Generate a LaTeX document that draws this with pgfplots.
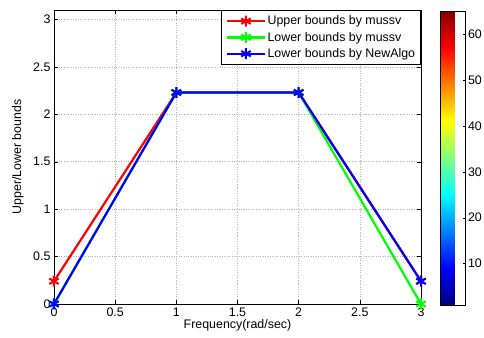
\documentclass[border=0pt]{standalone}
\usepackage{fontspec}
\setmainfont{Liberation Sans}
\usepackage{pgfplots}
\pgfplotsset{compat=1.18}
\begin{document}
\begin{tikzpicture}[font=\fontsize{12.4}{14.5}\selectfont]
\begin{axis}[
  name=main,
  scale only axis,
  width=367pt, height=294pt,
  xmin=0, xmax=3, ymin=0, ymax=3.1,
  xtick={0,0.5,1,1.5,2,2.5,3},
  ytick={0,0.5,1,1.5,2,2.5,3},
  xticklabels={0,0.5,1,1.5,2,2.5,3},
  yticklabels={0,0.5,1,1.5,2,2.5,3},
  /pgf/number format/assume math mode=true,
  tick label style={font=\fontsize{12.4}{14.5}\selectfont},
  label style={font=\fontsize{12.4}{14.5}\selectfont},
  tick align=inside,
  major tick length=4pt,
  tick style={black, line width=0.4pt},
  axis line style={black, line width=0.8pt},
  grid=major,
  major grid style={gray!60, dotted, line width=0.6pt},
  xlabel={Frequency(rad/sec)},
  ylabel={Upper/Lower bounds},
  xlabel style={yshift=4pt},
  ylabel style={at={(axis description cs:-0.098,0.5)}, anchor=center},
  clip=false,
  colorbar right,
  colormap/jet,
  point meta min=1, point meta max=65,
  colorbar style={
    at={(parent axis.north east)}, anchor=north west,
    xshift=11pt, yshift=-1pt,
    width=25pt,
    ytick={10,20,30,40,50,60},
    yticklabels={10,20,30,40,50,60},
    ytick pos=right,
    /pgf/number format/assume math mode=true,
    tick label style={font=\fontsize{12.4}{14.5}\selectfont},
    tick align=inside,
    major tick length=3pt,
    yticklabel style={xshift=-1pt},
    axis line style={black, line width=0.6pt},
  },
  legend cell align=left,
  legend style={at={(1,1)}, anchor=north east, draw=black, line width=0.8pt,
    inner xsep=4pt, inner ysep=4pt, row sep=2.8pt,
    nodes={inner sep=1.5pt},
    font=\fontsize{12.4}{14}\selectfont},
  legend image code/.code={\draw[mark repeat=2, mark phase=2] plot coordinates {(0pt,0pt) (19pt,0pt) (38pt,0pt)};},
]
\addplot[red, line width=2.2pt, mark=asterisk, mark size=5.5pt, mark options={line width=2pt}] coordinates {(0,0.24) (1,2.23) (2,2.23) (3,0.24)};
\addlegendentry{Upper bounds by mussv}
\addplot[green, line width=2.2pt, mark=asterisk, mark size=5.5pt, mark options={line width=2pt}] coordinates {(0,0) (1,2.23) (2,2.23) (3,0)};
\addlegendentry{Lower bounds by mussv}
\addplot[blue, line width=2.2pt, mark=asterisk, mark size=5.5pt, mark options={line width=2pt}] coordinates {(0,0) (1,2.23) (2,2.23) (3,0.24)};
\addlegendentry{Lower bounds by NewAlgo}
\end{axis}
\pgfresetboundingbox
\path[use as bounding box] ([xshift=-54pt,yshift=-34pt]main.south west) rectangle ([xshift=63pt,yshift=10pt]main.north east);
\end{tikzpicture}
\end{document}
